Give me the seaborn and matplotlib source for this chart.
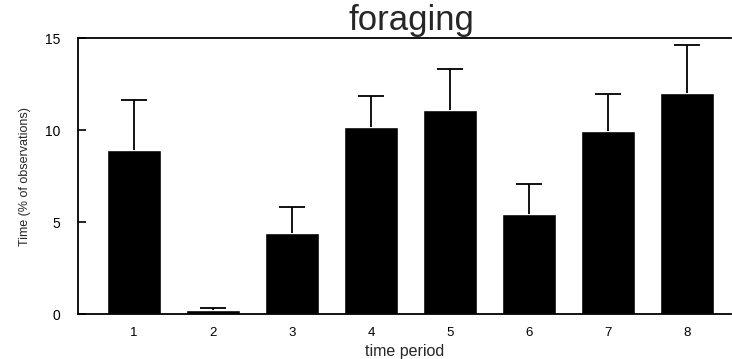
import matplotlib
matplotlib.use("Agg")
import matplotlib.pyplot as plt
import seaborn as sns
import pandas as pd
import numpy as np

# Foraging time per observation period (mean + upper SE)
periods = ["1", "2", "3", "4", "5", "6", "7", "8"]
means = [8.9, 0.2, 4.4, 10.2, 11.1, 5.45, 9.95, 12.0]
upper = [11.65, 0.35, 5.8, 11.85, 13.35, 7.1, 11.95, 14.65]
yticks = [0, 5, 10, 15]

sns.set_style("white")
plt.rcParams["font.family"] = ["Liberation Sans", "DejaVu Sans"]

df = pd.DataFrame({"period": periods, "time": means})
err = np.array(upper) - np.array(means)

fig = plt.figure(figsize=(7.32, 3.59), dpi=100)
ax = fig.add_axes([0.1066, 0.1253, 0.892, 0.768])

sns.barplot(data=df, x="period", y="time", color="black", width=0.69,
            saturation=1, errorbar=None, ax=ax)

# one-sided (upper) error bars: hide the cap at the bar top
eb = ax.errorbar(x=np.arange(len(periods)), y=means,
                 yerr=[np.zeros(len(means)), err], fmt="none",
                 ecolor="black", elinewidth=1.3, capsize=9.5, capthick=1.3)
caps = eb.lines[1]
if len(caps) == 2:
    caps[0].set_visible(False)

ax.set_xlim(-0.71, 7.56)
ax.set_ylim(0, 15)
ax.set_yticks(yticks)
ax.set_yticklabels([str(t) for t in yticks])

for side in ("left", "bottom", "top"):
    ax.spines[side].set_visible(True)
    ax.spines[side].set_color("black")
    ax.spines[side].set_linewidth(1.3)
ax.spines["right"].set_visible(False)

ax.tick_params(axis="y", direction="in", length=6, width=1.2, pad=13,
               labelsize=10, colors="black", left=True)
ax.tick_params(axis="x", length=0, pad=9, labelsize=9.5, colors="black")

ax.set_xlabel("time period", fontsize=11.5, labelpad=4)
ax.set_ylabel("Time (% of observations)", fontsize=9, labelpad=10)
ax.set_title("foraging", fontsize=25, pad=6, x=0.51)

fig.savefig("out.png", dpi=100)
